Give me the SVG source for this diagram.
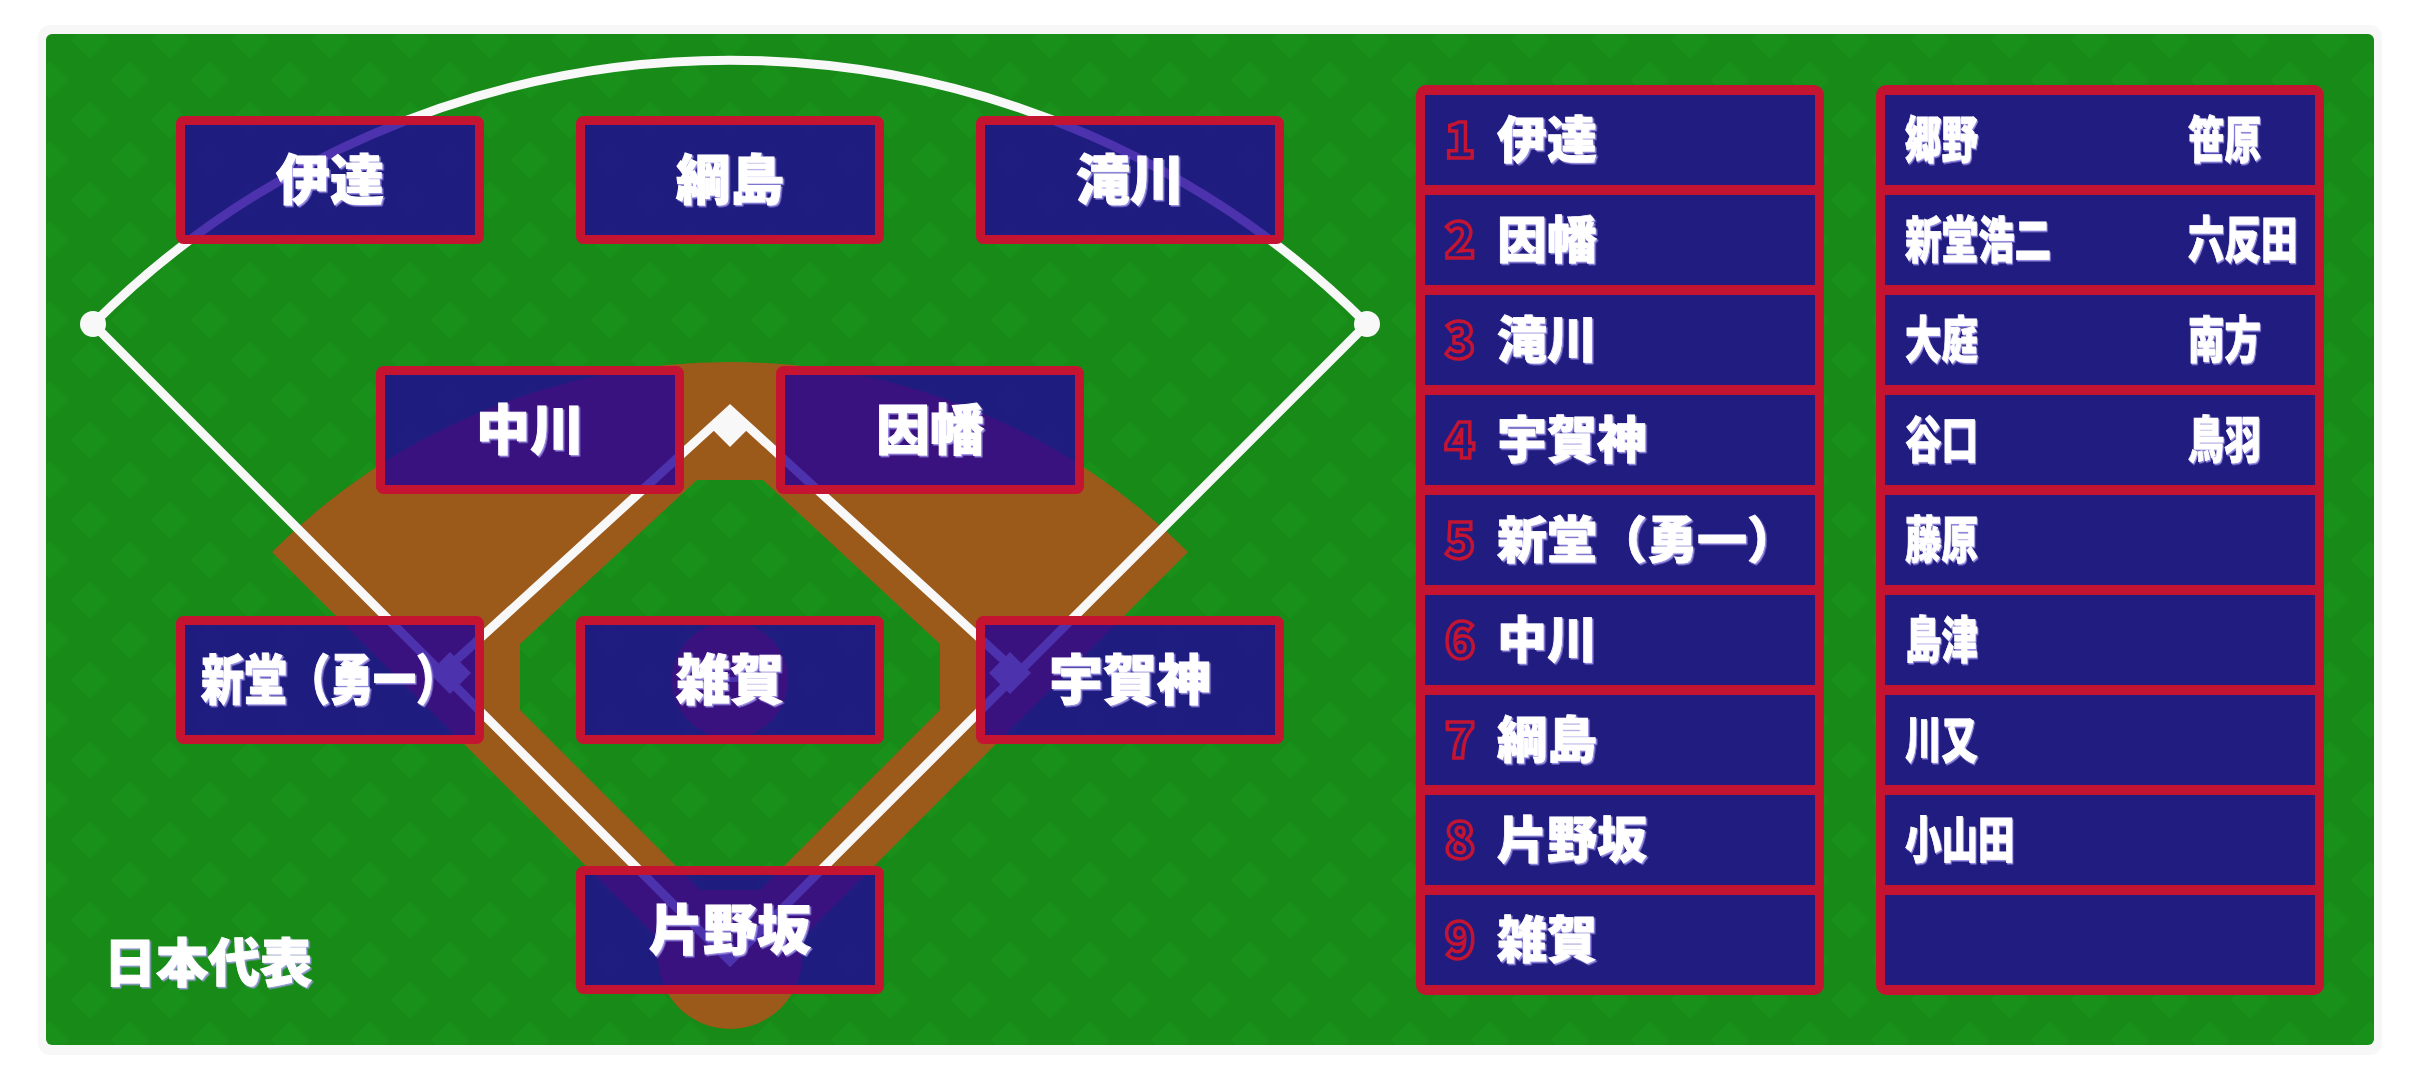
<svg xmlns="http://www.w3.org/2000/svg" width="2420" height="1080" viewBox="0 0 2420 1080">
<defs>
<style>
.box{fill:#22009a;fill-opacity:0.8;stroke:#c41432;stroke-width:9}
.fld{font-family:"Noto Sans CJK JP","Noto Sans",sans-serif;font-weight:900;font-size:54px;fill:#ffffff;stroke:#ffffff;stroke-width:1;text-anchor:middle}
.nm{font-family:"Noto Sans CJK JP","Noto Sans",sans-serif;font-weight:900;font-size:50px;fill:#ffffff;stroke:#ffffff;stroke-width:0.8}
.num{font-family:"Noto Sans CJK JP","Noto Sans",sans-serif;font-weight:900;font-size:50px;fill:none;stroke:#c41432;stroke-width:3.5;text-anchor:middle}
.row{fill:#211c80}
.panel{fill:#c41432}
.wl{fill:none;stroke:#f8f8f8;stroke-width:9}
.base{fill:#f8f8f8}
</style>
<pattern id="argyle" width="80" height="80" patternUnits="userSpaceOnUse" x="70" y="20">
<rect width="80" height="80" fill="#178a17"/>
<path d="M20 1 L39 20 L20 39 L1 20 Z M60 41 L79 60 L60 79 L41 60 Z" fill="#199019"/>
</pattern>
<filter id="ts" x="-5%" y="-10%" width="110%" height="125%">
<feDropShadow dx="1.5" dy="1.5" stdDeviation="0.3" flood-color="#a79cf0" flood-opacity="0.9"/>
</filter>
</defs>
<rect x="0" y="0" width="2420" height="1080" fill="#ffffff"/>
<rect x="38" y="25" width="2344" height="1030" rx="12" fill="#f7f7f7"/>
<rect x="46" y="34" width="2328" height="1011" rx="6" fill="url(#argyle)"/>

<g id="field">
<path d="M272 552 A647 647 0 0 1 1188 552 L730 1010 Z" fill="#9c5a1a"/>
<circle cx="730" cy="957" r="72" fill="#9c5a1a"/>
<polygon points="697,480 763,480 940,644 940,710 760,890 700,890 520,710 520,644" fill="url(#argyle)"/>
<circle cx="730" cy="680" r="58" fill="#9c5a1a"/>
<rect x="721" y="677" width="18" height="5" fill="#f8f8f8"/>
</g>

<g id="connectors">
<path class="wl" d="M93 324 A901 901 0 0 1 1367 324"/>
<polyline class="wl" points="93,324 730,961 1367,324"/>
<polyline class="wl" points="442,673 730,410 1018,673"/>
<circle cx="93" cy="324" r="13" fill="#f8f8f8"/>
<circle cx="1367" cy="324" r="13" fill="#f8f8f8"/>
<polygon class="base" points="730,405 751,426 730,447 709,426"/>
<polygon class="base" points="450,652 471,673 450,694 429,673"/>
<polygon class="base" points="1010,652 1031,673 1010,694 989,673"/>
</g>

<g id="lf"><rect class="box" x="180.5" y="120.5" width="299" height="119" rx="3"/><text class="fld" x="330" y="200" filter="url(#ts)">伊達</text></g>
<g id="cf"><rect class="box" x="580.5" y="120.5" width="299" height="119" rx="3"/><text class="fld" x="730" y="200" filter="url(#ts)">綱島</text></g>
<g id="rf"><rect class="box" x="980.5" y="120.5" width="299" height="119" rx="3"/><text class="fld" x="1130" y="200" filter="url(#ts)">滝川</text></g>
<g id="ss"><rect class="box" x="380.5" y="370.5" width="299" height="119" rx="3"/><text class="fld" x="530" y="450" filter="url(#ts)">中川</text></g>
<g id="second"><rect class="box" x="780.5" y="370.5" width="299" height="119" rx="3"/><text class="fld" x="930" y="450" filter="url(#ts)">因幡</text></g>
<g id="third"><rect class="box" x="180.5" y="620.5" width="299" height="119" rx="3"/><text class="fld" x="330" y="700" textLength="258" lengthAdjust="spacingAndGlyphs" filter="url(#ts)">新堂（勇一）</text></g>
<g id="pitcher"><rect class="box" x="580.5" y="620.5" width="299" height="119" rx="3"/><text class="fld" x="730" y="700" filter="url(#ts)">雑賀</text></g>
<g id="first"><rect class="box" x="980.5" y="620.5" width="299" height="119" rx="3"/><text class="fld" x="1130" y="700" filter="url(#ts)">宇賀神</text></g>
<g id="catcher"><rect class="box" x="580.5" y="870.5" width="299" height="119" rx="3"/><text class="fld" x="730" y="950" filter="url(#ts)">片野坂</text></g>

<g id="team"><text x="104" y="982" font-family="Noto Sans CJK JP, Noto Sans, sans-serif" font-weight="900" font-size="52" fill="#ffffff" stroke="#ffffff" stroke-width="1" filter="url(#ts)">日本代表</text></g>

<g id="lineup">
<rect class="panel" x="1416" y="85" width="408" height="910" rx="10"/>
<rect class="row" x="1425" y="95" width="390" height="90"/>
<rect class="row" x="1425" y="195" width="390" height="90"/>
<rect class="row" x="1425" y="295" width="390" height="90"/>
<rect class="row" x="1425" y="395" width="390" height="90"/>
<rect class="row" x="1425" y="495" width="390" height="90"/>
<rect class="row" x="1425" y="595" width="390" height="90"/>
<rect class="row" x="1425" y="695" width="390" height="90"/>
<rect class="row" x="1425" y="795" width="390" height="90"/>
<rect class="row" x="1425" y="895" width="390" height="90"/>
<text class="num" x="1460" y="158">1</text><text class="nm" x="1497" y="158" filter="url(#ts)">伊達</text>
<text class="num" x="1460" y="258">2</text><text class="nm" x="1497" y="258" filter="url(#ts)">因幡</text>
<text class="num" x="1460" y="358">3</text><text class="nm" x="1497" y="358" filter="url(#ts)">滝川</text>
<text class="num" x="1460" y="458">4</text><text class="nm" x="1497" y="458" filter="url(#ts)">宇賀神</text>
<text class="num" x="1460" y="558">5</text><text class="nm" x="1497" y="558" filter="url(#ts)">新堂（勇一）</text>
<text class="num" x="1460" y="658">6</text><text class="nm" x="1497" y="658" filter="url(#ts)">中川</text>
<text class="num" x="1460" y="758">7</text><text class="nm" x="1497" y="758" filter="url(#ts)">綱島</text>
<text class="num" x="1460" y="858">8</text><text class="nm" x="1497" y="858" filter="url(#ts)">片野坂</text>
<text class="num" x="1460" y="958">9</text><text class="nm" x="1497" y="958" filter="url(#ts)">雑賀</text>
</g>

<g id="bench">
<rect class="panel" x="1876" y="85" width="448" height="910" rx="10"/>
<rect class="row" x="1885" y="95" width="430" height="90"/>
<rect class="row" x="1885" y="195" width="430" height="90"/>
<rect class="row" x="1885" y="295" width="430" height="90"/>
<rect class="row" x="1885" y="395" width="430" height="90"/>
<rect class="row" x="1885" y="495" width="430" height="90"/>
<rect class="row" x="1885" y="595" width="430" height="90"/>
<rect class="row" x="1885" y="695" width="430" height="90"/>
<rect class="row" x="1885" y="795" width="430" height="90"/>
<rect class="row" x="1885" y="895" width="430" height="90"/>
<text class="nm" transform="translate(1905,158) scale(0.73,1)" filter="url(#ts)">郷野</text>
<text class="nm" transform="translate(2188,158) scale(0.73,1)" filter="url(#ts)">笹原</text>
<text class="nm" transform="translate(1905,258) scale(0.73,1)" filter="url(#ts)">新堂浩二</text>
<text class="nm" transform="translate(2188,258) scale(0.73,1)" filter="url(#ts)">六反田</text>
<text class="nm" transform="translate(1905,358) scale(0.73,1)" filter="url(#ts)">大庭</text>
<text class="nm" transform="translate(2188,358) scale(0.73,1)" filter="url(#ts)">南方</text>
<text class="nm" transform="translate(1905,458) scale(0.73,1)" filter="url(#ts)">谷口</text>
<text class="nm" transform="translate(2188,458) scale(0.73,1)" filter="url(#ts)">鳥羽</text>
<text class="nm" transform="translate(1905,558) scale(0.73,1)" filter="url(#ts)">藤原</text>
<text class="nm" transform="translate(1905,658) scale(0.73,1)" filter="url(#ts)">島津</text>
<text class="nm" transform="translate(1905,758) scale(0.73,1)" filter="url(#ts)">川又</text>
<text class="nm" transform="translate(1905,858) scale(0.73,1)" filter="url(#ts)">小山田</text>
</g>
</svg>
